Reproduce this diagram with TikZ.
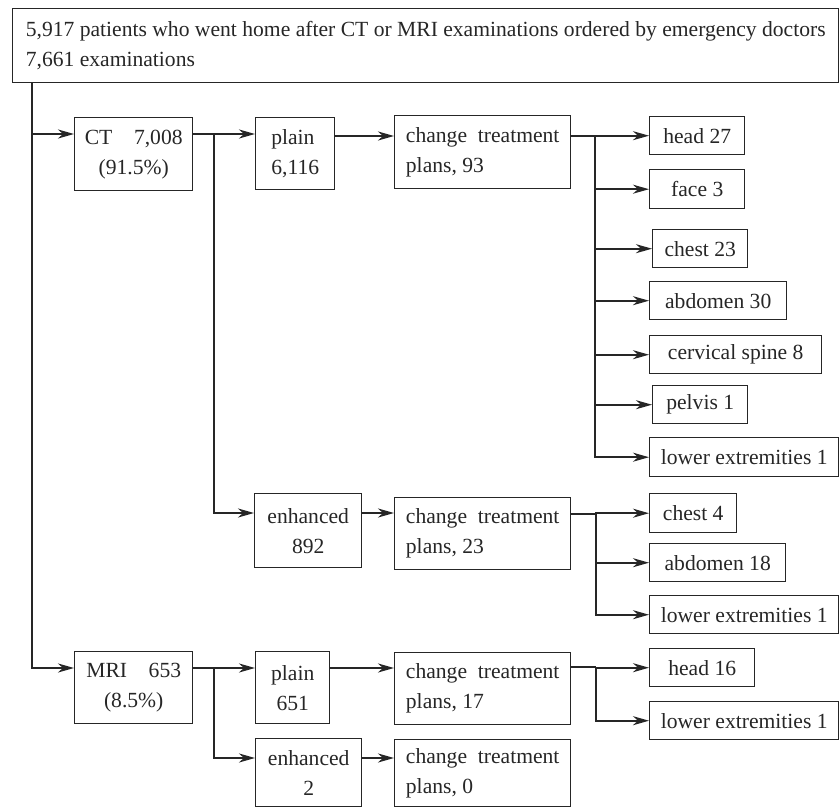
\documentclass[tikz,border=0pt]{standalone}
\usepackage{fontspec}
\setmainfont{Liberation Serif}
\usepackage{tikz}
\usetikzlibrary{
arrows.meta,
calc
}

\begin{document}
\begin{tikzpicture}[
        x=0.5pt, y=-0.5pt,
        color=black!85,
        font=\fontsize{10.8}{15}\selectfont,
        box/.style 2 args={
          draw,
          line width = 0.7pt,
          anchor = north west,
          align = left,
          inner sep = 0pt,
          minimum width = #1,
          minimum height = #2,
        },
        conn/.style={
          line width = 1pt,
        },
        arr/.style={
          conn,
          -{Stealth[length=8pt, width=4.5pt, inset=2.5pt]},
        },
        ]
        \useasboundingbox (0,0) rectangle (839,807);

        % top box and the two kinds of examination
        \node [box={413pt}{37pt}] (top) at (12,8)
        {5,917 patients who went home after CT or MRI examinations ordered by emergency doctors\\7,661 examinations};
        \node [box={59pt}{36.5pt}, align=center] (ct) at (74,117) {CT\quad 7,008\\(91.5\%)};
        \node [box={59pt}{36pt}, align=center] (mri) at (74,651) {MRI\quad 653\\(8.5\%)};

        % CT
        \node [box={39.5pt}{36pt}] (ctplain) at (255,117) {plain\\6,116};
        \node [box={53.5pt}{37pt}, align=center] (ctenh) at (254,493) {enhanced\\892};
        \node [box={88pt}{36.5pt}] (ctplainchg) at (394,115) {change\enspace treatment\\plans, 93};
        \node [box={88pt}{36pt}] (ctenhchg) at (394,497) {change\enspace treatment\\plans, 23};

        \node [box={47.5pt}{19pt}] (head27) at (649,116) {head 27};
        \node [box={47.5pt}{19.5pt}] (face3) at (649,169) {face 3};
        \node [box={47.5pt}{19pt}] (chest23) at (652,229) {chest 23};
        \node [box={68.5pt}{19pt}] (abd30) at (649,281) {abdomen 30};
        \node [box={86pt}{19pt}] (spine8) at (649,335) {cervical spine 8};
        \node [box={47.5pt}{19pt}] (pelvis1) at (652,385) {pelvis 1};
        \node [box={94.5pt}{19.5pt}] (lowext1) at (649,437) {lower extremities 1};

        \node [box={43.5pt}{19.5pt}] (chest4) at (649,493) {chest 4};
        \node [box={68pt}{19pt}] (abd18) at (649,543) {abdomen 18};
        \node [box={94.5pt}{19pt}] (lowext2) at (649,595) {lower extremities 1};

        % MRI
        \node [box={37pt}{36pt}, align=center] (mriplain) at (255,651) {plain\\651};
        \node [box={53pt}{34pt}, align=center] (mrienh) at (255,738) {enhanced\\2};
        \node [box={88pt}{36pt}] (mriplainchg) at (394,652) {change\enspace treatment\\plans, 17};
        \node [box={88pt}{33.5pt}] (mrienhchg) at (394,739) {change\enspace treatment\\plans, 0};

        \node [box={52.5pt}{19pt}] (head16) at (649,648) {head 16};
        \node [box={94.5pt}{19pt}] (lowext3) at (649,701) {lower extremities 1};

        % trunk
        \draw [arr] ([xshift=10pt]top.south west) |- ($(ct.north west)+(0,17)$);
        \draw [arr] ([xshift=10pt]top.south west) |- ($(mri.north west)+(0,17)$);

        % CT connectors
        \coordinate (ctin) at ($(ctplain.north west)+(0,17)$);
        \coordinate (ctenhin) at ($(ctenh.north west)+(0,20)$);
        \draw [arr] (ct.east |- ctin) -- (ctin);
        \draw [arr] ($(ct.north east)+(21,17)$) |- (ctenhin);
        \coordinate (chgin1) at ($(ctplainchg.north west)+(0,21)$);
        \draw [arr] (ctplain.east |- chgin1) -- (chgin1);
        \draw [arr] (ctenh.east |- ctenhin) -- (ctenhin -| ctenhchg.west);

        \coordinate (fork1) at ($(ctplainchg.north east)+(24,21)$);
        \draw [conn] (ctplainchg.east |- fork1) -- (fork1);
        \foreach \leaf in {head27,face3,chest23,abd30,spine8,pelvis1,lowext1}
        \draw [arr] (fork1) |- (\leaf.west);

        \coordinate (fork2) at ($(ctenhchg.north east)+(25,17)$);
        \draw [conn] (ctenhchg.east |- fork2) -- (fork2);
        \foreach \leaf in {chest4,abd18,lowext2}
        \draw [arr] (fork2) |- (\leaf.west);

        % MRI connectors
        \coordinate (mriin) at ($(mriplain.north west)+(0,17)$);
        \coordinate (mrienhin) at ($(mrienh.north west)+(0,20)$);
        \draw [arr] (mri.east |- mriin) -- (mriin);
        \draw [arr] ($(mri.north east)+(21,17)$) |- (mrienhin);
        \draw [arr] (mriplain.east |- mriin) -- (mriin -| mriplainchg.west);
        \draw [arr] (mrienh.east |- mrienhin) -- (mrienhin -| mrienhchg.west);

        \coordinate (fork3) at ($(mriplainchg.north east)+(25,15)$);
        \draw [conn] (mriplainchg.east |- fork3) -- (fork3);
        \foreach \leaf in {head16,lowext3}
        \draw [arr] (fork3) |- (\leaf.west);
      \end{tikzpicture}
\end{document}
